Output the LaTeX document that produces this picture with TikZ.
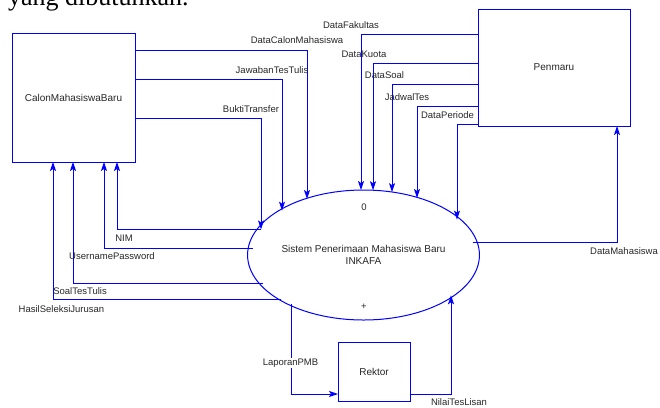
\documentclass[tikz,border=0pt]{standalone}
\usepackage{fontspec}
\setmainfont{Liberation Sans}
\newfontfamily\serifx{Liberation Serif}
\usetikzlibrary{shapes.geometric,arrows.meta,calc}
\begin{document}
\begin{tikzpicture}[x=1pt,y=-1pt,
  ent/.style={draw=blue,line width=1pt,inner sep=0pt,outer sep=0pt,text=black!85,font=\fontsize{10}{12}\selectfont},
  flow/.style={draw=blue,line width=0.9pt,-{Stealth[length=9pt,width=6pt,inset=2pt]}},
  lbl/.style={font=\fontsize{9.5}{11}\selectfont,inner sep=0pt,text=black!85},
]
\useasboundingbox (0,0) rectangle (660,407);
\clip (0,0) rectangle (660,407);

\node[anchor=base west,inner sep=0pt,font=\serifx\fontsize{26}{30}\selectfont] (hdr) at (8,5) {yang dibutuhkan.};

% entities and process
\node[ent,minimum width=123pt,minimum height=129pt] (calon) at (73.5,97.5) {CalonMahasiswaBaru};
\node[ent,minimum width=152pt,minimum height=117pt] (pen) at (554,67.5) {Penmaru};
\node[ent,minimum width=72pt,minimum height=59pt] (rek) at (374,371.5) {Rektor};
\node[ent,ellipse,minimum width=223pt,minimum height=130pt,align=center] (sys) at (363.5,255) {Sistem Penerimaan Mahasiswa Baru\\INKAFA};
\node[lbl] (zero) at (364,207) {0};
\node[lbl] (plus) at (364,307) {+};

% boundary points on the ellipse
\coordinate (eDCM) at ($(sys.center)+(-56.5,{-65*sqrt(1-(56.5/111.5)^2)})$);
\coordinate (eJTT) at ($(sys.center)+(-81.5,{-65*sqrt(1-(81.5/111.5)^2)})$);
\coordinate (eBT)  at ($(sys.center)+(-102.5,{-65*sqrt(1-(102.5/111.5)^2)})$);
\coordinate (eNIM) at ($(sys.center)+({-111.5*sqrt(1-(26/65)^2)},-26)$);
\coordinate (eUP)  at ($(sys.center)+({-111.5*sqrt(1-(7/65)^2)},-7)$);
\coordinate (eSTT) at ($(sys.center)+({-111.5*sqrt(1-(28/65)^2)},28)$);
\coordinate (eHSJ) at ($(sys.center)+({-111.5*sqrt(1-(44/65)^2)},44)$);
\coordinate (eDF)  at ($(sys.center)+(-2.5,{-65*sqrt(1-(2.5/111.5)^2)})$);
\coordinate (eDK)  at ($(sys.center)+(9.5,{-65*sqrt(1-(9.5/111.5)^2)})$);
\coordinate (eDS)  at ($(sys.center)+(28.5,{-65*sqrt(1-(28.5/111.5)^2)})$);
\coordinate (eJT)  at ($(sys.center)+(53.5,{-65*sqrt(1-(53.5/111.5)^2)})$);
\coordinate (eDP)  at ($(sys.center)+(93.5,{-65*sqrt(1-(93.5/111.5)^2)})$);
\coordinate (eDM)  at ($(sys.center)+({111.5*sqrt(1-(13/65)^2)},-13)$);
\coordinate (eLap) at ($(sys.center)+(-72.5,{65*sqrt(1-(72.5/111.5)^2)})$);
\coordinate (eNil) at ($(sys.center)+(87.5,{65*sqrt(1-(87.5/111.5)^2)})$);

% CalonMahasiswaBaru -> system
\draw[flow] ($(calon.north east)+(0,17)$) -| (eDCM);
\draw[flow] ($(calon.north east)+(0,46)$) -| (eJTT);
\draw[flow] ($(calon.north east)+(0,85)$) -| (eBT);
\node[lbl] (lDCM) at (297,40) {DataCalonMahasiswa};
\node[lbl] (lJTT) at (272,70) {JawabanTesTulis};
\node[lbl] (lBT)  at (251,109) {BuktiTransfer};

% system -> CalonMahasiswaBaru
\draw[flow] (eNIM) -| ($(calon.south west)+(105,0)$);
\draw[flow] (eUP)  -| ($(calon.south west)+(92,0)$);
\draw[flow] (eSTT) -| ($(calon.south west)+(61,0)$);
\draw[flow] (eHSJ) -| ($(calon.south west)+(41,0)$);
\node[lbl] (lNIM) at (124,238) {NIM};
\node[lbl] (lUP)  at (112,256) {UsernamePassword};
\node[lbl] (lSTT) at (80,291) {SoalTesTulis};
\node[lbl] (lHSJ) at (61.5,309) {HasilSeleksiJurusan};

% Penmaru -> system
\draw[flow] ($(pen.north west)+(0,25)$) -| (eDF);
\draw[flow] ($(pen.north west)+(0,54)$) -| (eDK);
\draw[flow] ($(pen.north west)+(0,75)$) -| (eDS);
\draw[flow] ($(pen.north west)+(0,97)$) -| (eJT);
\draw[flow] ($(pen.north west)+(0,115)$) -| (eDP);
\node[lbl] (lDF) at (351,25) {DataFakultas};
\node[lbl] (lDK) at (364,54) {DataKuota};
\node[lbl] (lDS) at (384.5,75) {DataSoal};
\node[lbl] (lJT) at (407,97) {JadwalTes};
\node[lbl] (lDP) at (447.5,115) {DataPeriode};

% system -> Penmaru
\draw[flow] (eDM) -| ($(pen.south west)+(139,0)$);
\node[lbl,anchor=west] (lDM) at (590,251) {DataMahasiswa};

% system <-> Rektor
\draw[flow] (eLap) |- ($(rek.south west)+(0,-7)$);
\node[lbl,fill=white,inner sep=1pt] (lLap) at (290.5,363) {LaporanPMB};
\draw[flow] ($(rek.south east)+(0,-7)$) -| (eNil);
\node[lbl] (lNil) at (459,402) {NilaiTesLisan};
\end{tikzpicture}
\end{document}
